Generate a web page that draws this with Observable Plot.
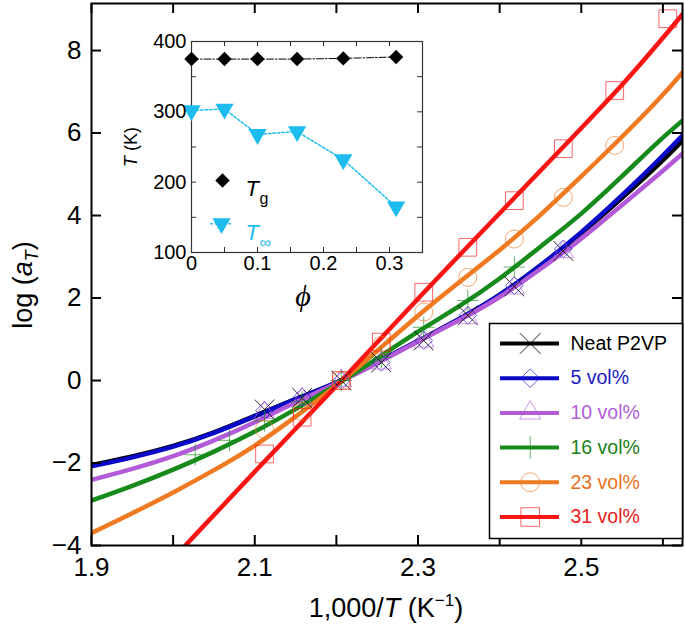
<!DOCTYPE html>
<html><head><meta charset="utf-8">
<script src="https://cdn.jsdelivr.net/npm/d3@7"></script>
<script src="https://cdn.jsdelivr.net/npm/@observablehq/plot@0.6"></script>
<style>
body{margin:0;background:#fff;}
#wrap{position:relative;width:685px;height:628px;font-family:"Liberation Sans",Arial,sans-serif;}
#wrap > svg{position:absolute;}
</style></head><body><div id="wrap"></div>
<script>
// ---------- data ----------
const seriesNames = ["Neat P2VP","5 vol%","10 vol%","16 vol%","23 vol%","31 vol%"];
const seriesColors = ["#000000","#0a0ac8","#b25ad8","#168a1a","#f07a22","#fa1414"];
const textColors = ["#000000","#1a1ac0","#b060d8","#208020","#e87020","#e82020"];
const seriesSymbols = ["times","diamond2","triangle","plus","circle","square"];
const symbolR = [9,8,7.5,7,9,10];

// fitted curves
const curveX = [1.9,1.95,2.0,2.05,2.1,2.15,2.2,2.25,2.3,2.35,2.4,2.45,2.5,2.55,2.6,2.624];
const neatCurve = [-2.05,-1.85,-1.60,-1.27,-0.86,-0.44,-0.07,0.43,0.96,1.48,2.05,2.78,3.56,4.42,5.33,5.82];
const vol5Curve = [-2.08,-1.87,-1.62,-1.28,-0.87,-0.45,-0.07,0.43,0.96,1.48,2.05,2.78,3.58,4.48,5.45,5.94];
const vol10Curve = [-2.41,-2.15,-1.85,-1.46,-1.02,-0.52,-0.08,0.42,0.95,1.45,2.0,2.70,3.42,4.26,5.08,5.50];
const vol16Curve = [-2.91,-2.56,-2.17,-1.73,-1.25,-0.70,-0.11,0.53,1.20,1.78,2.45,3.25,4.02,4.95,5.90,6.30];
const vol23Curve = [-3.70,-3.22,-2.72,-2.18,-1.60,-0.88,-0.13,0.72,1.58,2.38,3.15,4.00,4.95,5.90,6.91,7.47];
const redCurveX = [2.015,2.1,2.2,2.3,2.4,2.5,2.55,2.6,2.624];
const vol31Curve = [-4.0,-2.2,-0.15,2.0,4.05,6.12,7.15,8.3,8.88];

// measured points
const pointX = [2.112,2.158,2.206,2.255,2.307,2.361,2.418,2.478,2.541,2.606];
const neatPts = [-0.70,-0.42,0,0.44,0.97,1.58,2.28,3.14];
const vol5Pts = [-0.73,-0.40,0,0.44,0.97,1.58,2.30,3.19];
const vol10Pts = [-0.78,-0.45,0,0.42,0.95,1.52,2.24,3.12];
const vol16X = [2.027,2.069,2.112,2.158,2.206,2.255,2.307,2.361,2.418];
const vol16Pts = [-1.80,-1.45,-0.98,-0.52,0,0.56,1.29,1.94,2.75];
const vol23Pts = [-1.18,-0.75,0,0.85,1.66,2.50,3.43,4.44,5.70];
const vol31Pts = [-1.78,-0.89,0,0.93,2.14,3.23,4.36,5.62,7.03,8.77];

// axis ticks
const xTicks = [1.9,2.0,2.1,2.2,2.3,2.4,2.5,2.6];
const xTickLabels = [1.9,2.1,2.3,2.5];
const yTicks = [-4,-2,0,2,4,6,8];

// inset
const phi = [0,0.05,0.1,0.16,0.23,0.31];
const Tg = [375,375,375,375,376,378];
const Tinf = [302,304,268,272,232,165];
const insetXTicks = [0,0.05,0.1,0.15,0.2,0.25,0.3,0.35];
const insetXLabels = [0,0.1,0.2,0.3];
const insetYTicks = [100,150,200,250,300,350,400];
const insetYLabels = [100,200,300,400];

// ---------- tables ----------
const curveSets = [[curveX,neatCurve],[curveX,vol5Curve],[curveX,vol10Curve],[curveX,vol16Curve],[curveX,vol23Curve],[redCurveX,vol31Curve]];
const curves = curveSets.flatMap(([xs,ys],i)=>ys.map((y,j)=>({series:seriesNames[i],x:xs[j],y})));
const pointSets = [[pointX,neatPts],[pointX,vol5Pts],[pointX,vol10Pts],[vol16X,vol16Pts],[pointX,vol23Pts],[pointX,vol31Pts]];
const points = pointSets.flatMap(([xs,ys],i)=>ys.map((y,j)=>({series:seriesNames[i],i,x:xs[j],y})));

const FONT = '"Liberation Sans", Arial, sans-serif';
const wrap = document.getElementById("wrap");
const colorScale = {domain: seriesNames, range: seriesColors};

// ---------- main plot ----------
const main = Plot.plot({
  width: 685, height: 628,
  marginLeft: 91, marginRight: 3, marginTop: 3, marginBottom: 83,
  x: {domain: [1.9, 2.624], axis: null},
  y: {domain: [-4, 9.14], axis: null},
  color: colorScale,
  style: {fontFamily: FONT, background: "transparent", overflow: "visible"},
  marks: [
    Plot.line(curves, {x: "x", y: "y", z: "series", stroke: "series", strokeWidth: 4.5, curve: "basis", clip: true}),
    ...seriesNames.map((name, i) => Plot.dot(points.filter(d => d.i === i), {
      x: "x", y: "y", symbol: () => seriesSymbols[i], r: symbolR[i],
      stroke: seriesColors[i], strokeWidth: 1, strokeOpacity: i === 0 ? 0.85 : 0.65, fill: "none"
    })),
    Plot.ruleX(xTicks, {x: d => d, insetTop: 532, stroke: "black", strokeWidth: 2}),
    Plot.ruleX(xTicks, {x: d => d, insetBottom: 532, stroke: "black", strokeWidth: 2}),
    Plot.ruleY(yTicks, {y: d => d, insetRight: 581, stroke: "black", strokeWidth: 2}),
    Plot.ruleY(yTicks, {y: d => d, insetLeft: 581, stroke: "black", strokeWidth: 2}),
    Plot.frame({stroke: "black", strokeWidth: 2}),
    Plot.text(xTickLabels, {x: d => d, frameAnchor: "bottom", dy: 30, text: d => d.toFixed(1), fontSize: 26, fill: "black"}),
    Plot.text(yTicks, {y: d => d, frameAnchor: "left", dx: -10, textAnchor: "end", text: d => d < 0 ? "\u2212" + Math.abs(d) : String(d), fontSize: 26, fill: "black"})
  ]
});
main.style.left = "0px"; main.style.top = "0px";
wrap.appendChild(main);

// axis titles with italics / sub & superscripts
const msvg = d3.select(main);
const yl = msvg.append("text").attr("transform", "translate(32,285) rotate(-90)")
  .attr("text-anchor", "middle").attr("font-size", 27).attr("font-family", FONT).attr("fill", "black");
yl.append("tspan").text("log (");
yl.append("tspan").attr("font-style", "italic").text("a");
yl.append("tspan").attr("font-style", "italic").attr("font-size", 18).attr("dy", 6).text("T");
yl.append("tspan").attr("dy", -6).text(")");
const xl = msvg.append("text").attr("x", 386).attr("y", 617)
  .attr("text-anchor", "middle").attr("font-size", 27).attr("font-family", FONT).attr("fill", "black");
xl.append("tspan").text("1,000/");
xl.append("tspan").attr("font-style", "italic").text("T");
xl.append("tspan").text(" (K");
xl.append("tspan").attr("font-size", 17).attr("dy", -11).text("\u22121");
xl.append("tspan").attr("dy", 11).text(")");

// ---------- legend ----------
const rows = seriesNames.map((name, i) => ({name, i}));
const legend = Plot.plot({
  width: 193, height: 215, margin: 0,
  x: {domain: [0, 193], range: [0, 193], axis: null},
  y: {domain: [0, 215], range: [0, 215], axis: null},
  color: colorScale,
  style: {fontFamily: FONT, background: "white", overflow: "visible"},
  marks: [
    Plot.frame({stroke: "black", strokeWidth: 1.5}),
    Plot.ruleY(rows, {y: d => 20 + d.i * 34.7, x1: 11, x2: 70, stroke: "name", strokeWidth: 4}),
    ...rows.map(row => Plot.dot([row], {x: 40.7, y: d => 20 + d.i * 34.7, symbol: () => seriesSymbols[row.i], r: symbolR[row.i] * 1.05,
      stroke: seriesColors[row.i], strokeWidth: 1, strokeOpacity: row.i === 0 ? 0.85 : 0.65, fill: "none"})),
    Plot.text(rows, {x: 81, y: d => 20 + d.i * 34.7, text: "name", textAnchor: "start", fontSize: 19.5, fill: d => textColors[d.i]})
  ]
});
legend.style.left = "489px"; legend.style.top = "323px";
wrap.appendChild(legend);

// ---------- inset ----------
const triangleDown = {
  draw(ctx, size) {
    const y = -Math.sqrt(size / (Math.sqrt(3) * 3));
    ctx.moveTo(0, -y * 2);
    ctx.lineTo(-Math.sqrt(3) * y, y);
    ctx.lineTo(Math.sqrt(3) * y, y);
    ctx.closePath();
  }
};
const tgData = phi.map((p, i) => ({phi: p, T: Tg[i]}));
const tinfData = phi.map((p, i) => ({phi: p, T: Tinf[i]}));
const CYAN = "#1cbcee";
const inset = Plot.plot({
  width: 320, height: 290,
  marginLeft: 71, marginRight: 18, marginTop: 16, marginBottom: 63,
  x: {domain: [0, 0.35], axis: null},
  y: {domain: [100, 400], axis: null},
  style: {fontFamily: FONT, background: "transparent", overflow: "visible"},
  marks: [
    Plot.ruleX(insetXTicks, {x: d => d, insetTop: 206, stroke: "#333", strokeWidth: 1}),
    Plot.ruleX(insetXTicks, {x: d => d, insetBottom: 206, stroke: "#333", strokeWidth: 1}),
    Plot.ruleY(insetYTicks, {y: d => d, insetRight: 226, stroke: "#333", strokeWidth: 1}),
    Plot.ruleY(insetYTicks, {y: d => d, insetLeft: 226, stroke: "#333", strokeWidth: 1}),
    Plot.frame({stroke: "#333", strokeWidth: 1.2}),
    Plot.line(tgData, {x: "phi", y: "T", stroke: "black", strokeWidth: 1, strokeDasharray: "7,2,1.5,2"}),
    Plot.line(tinfData, {x: "phi", y: "T", stroke: CYAN, strokeWidth: 1.5, strokeDasharray: "2.5,2"}),
    Plot.dot(tgData, {x: "phi", y: "T", symbol: "diamond2", r: 6.5, fill: "black", stroke: "none"}),
    Plot.dot(tinfData, {x: "phi", y: "T", symbol: triangleDown, r: 6.8, fill: CYAN, stroke: "none"}),
    Plot.text(insetXLabels, {x: d => d, frameAnchor: "bottom", dy: 17, text: d => d === 0 ? "0" : d.toFixed(1), fontSize: 20, fill: "black"}),
    Plot.text(insetYLabels, {y: d => d, frameAnchor: "left", dx: -5, textAnchor: "end", text: d => String(d), fontSize: 20, fill: "black"}),
    // inset legend
    Plot.dot([0], {frameAnchor: "top-left", dx: 31, dy: 139, symbol: "diamond2", r: 6.5, fill: "black"}),
    Plot.text(["T"], {frameAnchor: "top-left", dx: 54, dy: 139, textAnchor: "start", fontSize: 22, fontStyle: "italic", fill: "black"}),
    Plot.text(["g"], {frameAnchor: "top-left", dx: 68, dy: 151, textAnchor: "start", fontSize: 16, fill: "black"}),
    Plot.ruleY([0], {x1: 0.0294, x2: 0.0627, y: () => 140.9, stroke: CYAN, strokeWidth: 1.5, strokeDasharray: "2.5,2"}),
    Plot.dot([0], {frameAnchor: "top-left", dx: 30, dy: 182, symbol: triangleDown, r: 6.8, fill: CYAN}),
    Plot.text(["T"], {frameAnchor: "top-left", dx: 54, dy: 183, textAnchor: "start", fontSize: 22, fontStyle: "italic", fill: CYAN}),
    Plot.text(["\u221e"], {frameAnchor: "top-left", dx: 68, dy: 195, textAnchor: "start", fontSize: 16, fill: CYAN})
  ]
});
inset.style.left = "120px"; inset.style.top = "25px";
wrap.appendChild(inset);
const isvg = d3.select(inset);
const tl = isvg.append("text").attr("transform", "translate(17,122) rotate(-90)")
  .attr("text-anchor", "middle").attr("font-size", 18).attr("font-family", FONT).attr("fill", "black");
tl.append("tspan").attr("font-style", "italic").text("T");
tl.append("tspan").text(" (K)");
isvg.append("text").attr("x", 183).attr("y", 281).attr("text-anchor", "middle")
  .attr("font-size", 30).attr("font-style", "italic").attr("font-family", '"Liberation Serif", "DejaVu Serif", serif')
  .attr("fill", "black").text("\u03d5");
</script></body></html>
